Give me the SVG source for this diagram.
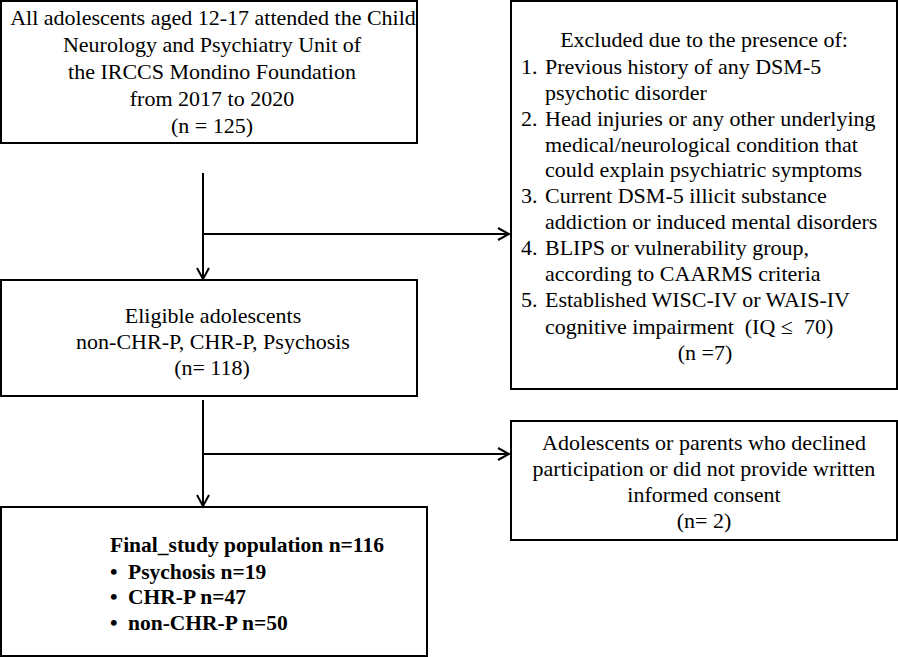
<svg xmlns="http://www.w3.org/2000/svg" width="898" height="657" viewBox="0 0 898 657">
<defs>
<style>
.box{fill:#fff;stroke:#000;stroke-width:2}
.t{font-family:"Liberation Serif","Times New Roman",serif;font-size:22px;fill:#000}
.c{text-anchor:middle}
.b{font-weight:bold;font-size:21.5px}
.ln{fill:none;stroke:#000;stroke-width:2}
</style>
<marker id="ah" markerWidth="14" markerHeight="14" refX="12" refY="7" orient="auto" markerUnits="userSpaceOnUse">
<path d="M1,1 L12,7 L1,13" fill="none" stroke="#000" stroke-width="2"/>
</marker>
</defs>
<rect width="898" height="657" fill="#fff"/>
<g id="connectors">
<line class="ln" x1="203" y1="173" x2="203" y2="279" marker-end="url(#ah)"/>
<line class="ln" x1="203" y1="234" x2="509" y2="234" marker-end="url(#ah)"/>
<line class="ln" x1="203" y1="400" x2="203" y2="506" marker-end="url(#ah)"/>
<line class="ln" x1="203" y1="454" x2="509" y2="454" marker-end="url(#ah)"/>
</g>
<g id="n1">
<rect class="box" x="1" y="1" width="416" height="142"/>
<text class="t c" x="213" y="25">All adolescents aged 12-17 attended the Child</text>
<text class="t c" x="212" y="52">Neurology and Psychiatry Unit of</text>
<text class="t c" x="212" y="79">the IRCCS Mondino Foundation</text>
<text class="t c" x="212" y="106">from 2017 to 2020</text>
<text class="t c" x="212" y="133">(n = 125)</text>
</g>
<g id="n2">
<rect class="box" x="511" y="1" width="386" height="388"/>
<text class="t c" x="704" y="47">Excluded due to the presence of:</text>
<text class="t" x="521" y="74">1.</text><text class="t" x="545" y="74">Previous history of any DSM-5</text>
<text class="t" x="545" y="100">psychotic disorder</text>
<text class="t" x="521" y="126">2.</text><text class="t" x="545" y="126">Head injuries or any other underlying</text>
<text class="t" x="545" y="152">medical/neurological condition that</text>
<text class="t" x="545" y="177">could explain psychiatric symptoms</text>
<text class="t" x="521" y="203">3.</text><text class="t" x="545" y="203">Current DSM-5 illicit substance</text>
<text class="t" x="545" y="229">addiction or induced mental disorders</text>
<text class="t" x="521" y="255">4.</text><text class="t" x="545" y="255">BLIPS or vulnerability group,</text>
<text class="t" x="545" y="281">according to CAARMS criteria</text>
<text class="t" x="521" y="307">5.</text><text class="t" x="545" y="307">Established WISC-IV or WAIS-IV</text>
<text class="t" x="545" y="334">cognitive impairment&#160; (IQ ≤&#160; 70)</text>
<text class="t c" x="705" y="360">(n =7)</text>
</g>
<g id="n3">
<rect class="box" x="1" y="280" width="416" height="116"/>
<text class="t c" x="213" y="323">Eligible adolescents</text>
<text class="t c" x="213" y="349">non-CHR-P, CHR-P, Psychosis</text>
<text class="t c" x="212" y="375">(n= 118)</text>
</g>
<g id="n4">
<rect class="box" x="511" y="421" width="386" height="119"/>
<text class="t c" x="704" y="450">Adolescents or parents who declined</text>
<text class="t c" x="704" y="476">participation or did not provide written</text>
<text class="t c" x="704" y="502">informed consent</text>
<text class="t c" x="704" y="528">(n= 2)</text>
</g>
<g id="n5">
<rect class="box" x="1" y="507" width="426" height="149"/>
<text class="t b" x="110" y="552">Final_study population n=116</text>
<text class="t b" x="110" y="579">•</text><text class="t b" x="128" y="579">Psychosis n=19</text>
<text class="t b" x="110" y="604">•</text><text class="t b" x="128" y="604">CHR-P n=47</text>
<text class="t b" x="110" y="630">•</text><text class="t b" x="128" y="630">non-CHR-P n=50</text>
</g>
</svg>
